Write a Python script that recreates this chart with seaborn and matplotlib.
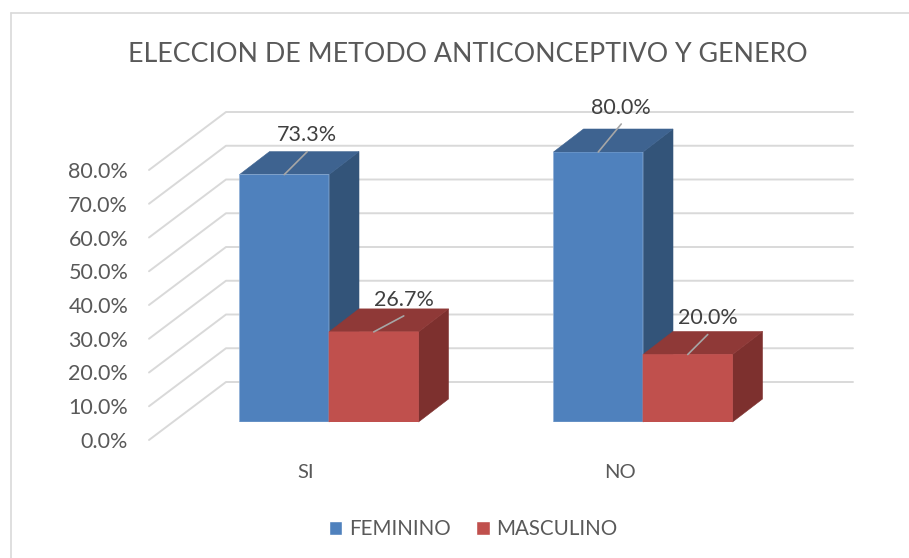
import matplotlib
matplotlib.use('Agg')
import matplotlib.pyplot as plt
from matplotlib.lines import Line2D
import pandas as pd
import seaborn as sns

categories = ['SI', 'NO']
feminino = [73.3, 80.0]
masculino = [26.7, 20.0]
y_ticks = [0, 10, 20, 30, 40, 50, 60, 70, 80]
title = 'ELECCION DE METODO ANTICONCEPTIVO Y GENERO'

W, H = 909, 558
PX_PER_VAL = 270 / 80

sns.set_theme(style='white')
plt.rcParams['font.family'] = ['Lato', 'DejaVu Sans']

df = pd.DataFrame({
    'cat': categories * 2,
    'val': feminino + masculino,
    'serie': ['FEMININO'] * 2 + ['MASCULINO'] * 2,
})

fig = plt.figure(figsize=(W / 100, H / 100), dpi=100)


def px_axes(left, right, top, bottom):
    return fig.add_axes([left / W, 1 - bottom / H, (right - left) / W, (bottom - top) / H])


# frame of the chart area
fig.add_artist(Line2D([11 / W, 11 / W], [0, 1 - 13 / H], color='#D9D9D9', lw=1.2))
fig.add_artist(Line2D([11 / W, 1], [1 - 13 / H, 1 - 13 / H], color='#D9D9D9', lw=1.2))

# wall with the gridlines, its axis is the one that carries the labels
wall = px_axes(149, 853, 170, 440)
wall.set_xlim(0, 704)
wall.set_ylim(0, 80)
for t in y_ticks:
    wall.plot([0, 77, 704], [t, t + 58 / PX_PER_VAL, t + 58 / PX_PER_VAL],
              color='#D9D9D9', lw=1.4, clip_on=False, zorder=1)
wall.set_xticks([])
wall.set_yticks(y_ticks)
wall.set_yticklabels(['%.1f%%' % t for t in y_ticks], fontsize=15.5, color='#595959')
wall.tick_params(axis='y', length=0, pad=15)
sns.despine(ax=wall, left=True, bottom=True)
wall.patch.set_alpha(0)

# bars, front faces from seaborn
ax = px_axes(149, 853, 152, 422)
ax.patch.set_alpha(0)
sns.barplot(data=df, x='cat', y='val', hue='serie', order=categories,
            palette=['#4F81BD', '#C0504D'], width=179 / 314, gap=0, errorbar=None,
            saturation=1, ax=ax, zorder=3, legend=True)
ax.set_xlim((149 - 329) / 314, (853 - 329) / 314)
ax.set_ylim(0, 80)
ax.set_xlabel('')
ax.set_ylabel('')
ax.set_yticks([])
# the category labels sit left of the middle of each pair of bars
ax.set_xticks([i - 23 / 314 for i in range(len(categories))])
ax.set_xticklabels(categories, fontsize=14.5, color='#595959')
ax.tick_params(axis='x', length=0, pad=30)
sns.despine(ax=ax, left=True, bottom=True)

# depth of the boxes
dx = 30 / 314
dy = 23 / PX_PER_VAL
side_cols = ['#335479', '#7D302E']
top_cols = ['#3E6390', '#8F3937']
# offsets of the leader line end, in pixels from the middle of the bar top
leaders = [[(23, 23), (30, 16)], [(23, 28), (20, 20)]]
label_gap = [[18, 17], [17, 18]]

for s, cont in enumerate(ax.containers):
    for c, bar in enumerate(cont):
        x0 = bar.get_x()
        x1 = x0 + bar.get_width()
        h = bar.get_height()
        bar.set_edgecolor('#8FAFD6' if s == 0 else '#C0504D')
        bar.set_linewidth(0.5)
        bar.set_zorder(2 + s)
        # snapped rectangles leave a pale seam under the top face
        bar.set_snap(False)
        ax.fill([x1, x1 + dx, x1 + dx, x1], [0, dy, h + dy, h], color=side_cols[s],
                lw=0.4, zorder=1.5 + s, clip_on=False)
        ax.fill([x0, x1, x1 + dx, x0 + dx], [h, h, h + dy, h + dy], color=top_cols[s],
                lw=0.4, zorder=1.5 + s, clip_on=False)
        mid = (x0 + x1) / 2
        lx, ly = leaders[c][s]
        ax.plot([mid, mid + lx / 314], [h, h + ly / PX_PER_VAL], color='#A6A6A6', lw=1.2,
                zorder=5, clip_on=False)
        ax.text(mid + lx / 314, h + (ly + label_gap[c][s]) / PX_PER_VAL - 0.3, '%.1f%%' % h,
                ha='center', va='center', fontsize=15.5, color='#404040', zorder=6)

handles, labels = ax.get_legend_handles_labels()
ax.get_legend().remove()
fig.legend(handles, labels, loc='center', bbox_to_anchor=(473 / W, 1 - 529 / H), ncol=2,
           frameon=False, fontsize=14.8, labelcolor='#595959', handlelength=0.68, handleheight=0.68,
           handletextpad=0.3, columnspacing=1.25)

fig.text(468 / W, 1 - 55 / H, title, ha='center', va='center', fontsize=19.3, color='#595959')

fig.savefig('out.png', dpi=100)
